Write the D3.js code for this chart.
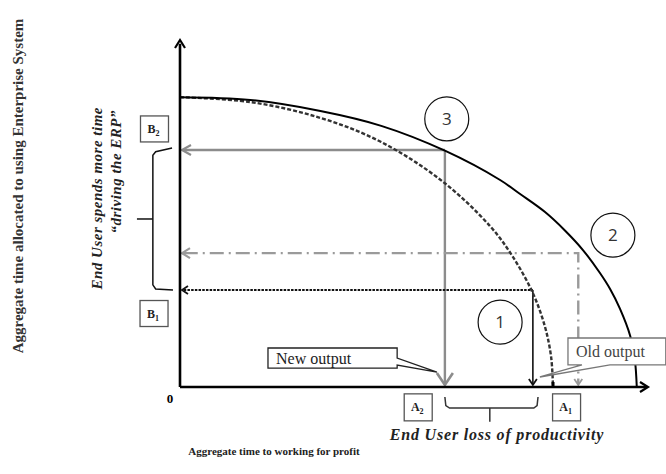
<!DOCTYPE html>
<html><head><meta charset="utf-8">
<script src="https://cdn.jsdelivr.net/npm/d3@7/dist/d3.min.js"></script>
<style>body{margin:0;background:#fff}svg{display:block}</style>
</head><body>
<svg id="c" width="666" height="474"></svg>
<script>
// ---- data (arbitrary units 0..100) ----
const oldPPF_x = [0, 15, 30, 43, 56.6, 68.4, 72.6, 78, 82.3, 86.1, 89.7, 91.9, 94, 96.2, 97.2, 97.6];
const oldPPF_y = [84, 83.2, 80, 75.7, 68.5, 60, 56, 50.7, 45.3, 39.7, 33.1, 28.4, 22.7, 14.8, 7.8, 0];
const newPPF_x = [0, 15, 30, 43, 56, 66.2, 71, 75.4, 78, 79.3, 79.7];
const newPPF_y = [84, 82.6, 78, 71, 59.7, 46.7, 38, 27.2, 17.4, 8.7, 0];

const pointLabels = ["1", "2", "3"];
const pointX = [75.4, 85.1, 56.6];
const pointY = [28.1, 38.8, 68.7];
const circleX = [68.4, 92.5, 57];
const circleY = [18.8, 44, 77.7];

const yMarkLabels = ["B", "B"];
const yMarkSubs = ["2", "1"];
const yMarkX = [-5.45, -5.55];
const yMarkY = [74.8, 21.3];
const xMarkLabels = ["A", "A"];
const xMarkSubs = ["2", "1"];
const xMarkX = [50.9, 82.6];
const xMarkY = [-5.9, -5.9];

const calloutTexts = ["New output", "Old output"];
const calloutBox = [[18.8, 11.3, 46.4, 5.5], [82.9, 14.2, 103.8, 6.4]];
const calloutTip = [[54.9, 4.3], [76.9, 2.9]];

const axisTitleX = "Aggregate time to working for profit";
const axisTitleY = "Aggregate time allocated to using Enterprise System";
const noteY = ["End User spends more time", "\u201Cdriving the ERP\u201D"];
const noteX = "End User loss of productivity";
const originLabel = "0";

// ---- scales ----
const x = d3.scaleLinear().domain([0, 100]).range([180, 648]);
const y = d3.scaleLinear().domain([0, 100]).range([387, 42]);
const svg = d3.select("#c");
const serif = "'Liberation Serif','Times New Roman',serif";

function chevron(tx, ty, ang, len, hw, color, width, filled) {
  const ux = Math.cos(ang), uy = Math.sin(ang);
  const px = -uy, py = ux;
  const bx = tx - ux * len, by = ty - uy * len;
  const p = d3.path();
  p.moveTo(bx + px * hw, by + py * hw);
  p.lineTo(tx, ty);
  p.lineTo(bx - px * hw, by - py * hw);
  if (filled) p.closePath();
  svg.append("path").attr("d", p.toString()).attr("fill", filled ? color : "none")
    .attr("stroke", color).attr("stroke-width", width).attr("stroke-linejoin", "miter");
}

const line = d3.line().x(d => x(d[0])).y(d => y(d[1]));
const curve = d3.line().x(d => x(d[0])).y(d => y(d[1])).curve(d3.curveCatmullRom.alpha(0.5));

// ---- guide lines ----
const g3 = 2;
svg.append("path").attr("d", line([[pointX[g3], pointY[g3]], [0.6, pointY[g3]]]))
  .attr("stroke", "#8c8c8c").attr("stroke-width", 2.4).attr("fill", "none");
svg.append("path").attr("d", line([[pointX[g3], pointY[g3]], [pointX[g3], 0.6]]))
  .attr("stroke", "#8c8c8c").attr("stroke-width", 2.4).attr("fill", "none");
chevron(x(0) + 2, y(pointY[g3]), Math.PI, 9, 5, "#8c8c8c", 2.2, false);
chevron(x(pointX[g3]), y(0) - 2, Math.PI / 2, 12, 8, "#8c8c8c", 2.6, false);

const g2 = 1;
svg.append("path").attr("d", line([[0.8, pointY[g2]], [pointX[g2], pointY[g2]], [pointX[g2], 0.8]]))
  .attr("stroke", "#9a9a9a").attr("stroke-width", 2.4).attr("fill", "none")
  .attr("stroke-dasharray", "14,5,2,5");
chevron(x(0) + 2, y(pointY[g2]), Math.PI, 8, 5, "#9a9a9a", 2.2, false);
chevron(x(pointX[g2]), y(0) - 2, Math.PI / 2, 6, 4, "#9a9a9a", 1.8, false);

const g1 = 0;
svg.append("path").attr("d", line([[0.8, pointY[g1]], [pointX[g1], pointY[g1]]]))
  .attr("stroke", "#111").attr("stroke-width", 2).attr("fill", "none")
  .attr("stroke-dasharray", "2.5,1.2");
svg.append("path").attr("d", line([[pointX[g1], pointY[g1]], [pointX[g1], 0.8]]))
  .attr("stroke", "#111").attr("stroke-width", 1.6).attr("fill", "none");
chevron(x(0) + 2, y(pointY[g1]), Math.PI, 6, 4, "#111", 1.8, false);
chevron(x(pointX[g1]), y(0) - 2, Math.PI / 2, 6, 4, "#111", 1.8, false);

// ---- curves ----
svg.append("path").attr("d", curve(newPPF_x.map((v, i) => [v, newPPF_y[i]])))
  .attr("stroke", "#333").attr("stroke-width", 2.4).attr("fill", "none")
  .attr("stroke-dasharray", "4,2");
svg.append("path").attr("d", curve(oldPPF_x.map((v, i) => [v, oldPPF_y[i]])))
  .attr("stroke", "#000").attr("stroke-width", 2).attr("fill", "none");

// ---- axes ----
svg.append("path").attr("d", line([[0, 0], [0, 99.5]])).attr("stroke", "#000").attr("stroke-width", 2.6).attr("fill", "none");
svg.append("path").attr("d", line([[0, 0], [99.6, 0]])).attr("stroke", "#000").attr("stroke-width", 2.6).attr("fill", "none");
chevron(x(0), y(100) - 2, -Math.PI / 2, 8, 5, "#000", 2.2, false);
chevron(x(100), y(0), 0, 8, 5, "#000", 2.2, false);
svg.append("rect").attr("x", x(79.7) - 1.5).attr("y", y(0) - 5).attr("width", 3).attr("height", 5).attr("fill", "#000");

svg.append("text").attr("x", x(0) - 10).attr("y", y(0) + 16).text(originLabel)
  .attr("font-family", serif).attr("font-size", 13).attr("font-weight", "bold").attr("text-anchor", "middle");

// ---- circles ----
pointLabels.forEach((t, i) => {
  svg.append("circle").attr("cx", x(circleX[i])).attr("cy", y(circleY[i])).attr("r", 22)
    .attr("fill", "#fff").attr("stroke", "#111").attr("stroke-width", 1.2);
  svg.append("text").attr("x", x(circleX[i])).attr("y", y(circleY[i]) + 6).text(t)
    .attr("text-anchor", "middle").attr("font-family", "'Open Sans','Liberation Sans',sans-serif")
    .attr("font-size", 17).attr("fill", "#333");
});

// ---- label boxes ----
function markBox(cx, cy, w, h, main, sub) {
  svg.append("rect").attr("x", cx - w / 2).attr("y", cy - h / 2).attr("width", w).attr("height", h)
    .attr("fill", "#fff").attr("stroke", "#555").attr("stroke-width", 1.3);
  const t = svg.append("text").attr("x", cx - 1).attr("y", cy + 4).attr("text-anchor", "middle")
    .attr("font-family", serif).attr("font-size", 12).attr("font-weight", "bold").attr("fill", "#222");
  t.append("tspan").text(main);
  t.append("tspan").text(sub).attr("font-size", 8).attr("dy", 3);
}
yMarkLabels.forEach((m, i) => markBox(x(yMarkX[i]), y(yMarkY[i]), 28, 26, m, yMarkSubs[i]));
xMarkLabels.forEach((m, i) => markBox(x(xMarkX[i]), y(xMarkY[i]), 28, 27, m, xMarkSubs[i]));

// ---- braces ----
const braceL = [[-1.7, 69.3], [-5.2, 68.2], [-5.8, 67.2], [-5.8, 29.6], [-5.2, 28.4], [-1.5, 28.1]];
svg.append("path").attr("d", line(braceL)).attr("stroke", "#111").attr("stroke-width", 1.5).attr("fill", "none");
svg.append("path").attr("d", line([[-9.2, 48.7], [-5.8, 48.7]])).attr("stroke", "#111").attr("stroke-width", 1.5).attr("fill", "none");
const braceB = [[56.6, -2.9], [56.8, -5.4], [57.6, -6.1], [75.6, -6.1], [76.3, -5.4], [76.5, -2.9]];
svg.append("path").attr("d", line(braceB)).attr("stroke", "#333").attr("stroke-width", 1.5).attr("fill", "none");
svg.append("path").attr("d", line([[66.2, -6.1], [66.2, -10.1]])).attr("stroke", "#333").attr("stroke-width", 1.5).attr("fill", "none");

// ---- callouts ----
calloutTexts.forEach((t, i) => {
  const b = calloutBox[i];
  const x0 = x(b[0]), y0 = y(b[1]), x1 = x(b[2]), y1 = y(b[3]);
  const tx = x(calloutTip[i][0]), ty = y(calloutTip[i][1]);
  let d;
  if (i === 0) {
    d = `M${x0},${y0}H${x1}V${y0 + 10}L${tx},${ty}L${x1},${y0 + 17}V${y1}H${x0}Z`;
  } else {
    d = `M${x0},${y0}H${x1}V${y1}H${x0 + 42}L${tx},${ty}L${x0 + 14},${y1}H${x0}Z`;
  }
  svg.append("path").attr("d", d).attr("fill", "#fff")
    .attr("stroke", i === 0 ? "#222" : "#777").attr("stroke-width", 1.3);
  svg.append("text").attr("x", x0 + 8).attr("y", (y0 + y1) / 2 + 5.5).text(t)
    .attr("font-family", serif).attr("font-size", 16).attr("fill", i === 0 ? "#222" : "#444");
});

// ---- titles / notes ----
svg.append("text").attr("transform", "translate(23,186) rotate(-90)").attr("text-anchor", "middle")
  .attr("font-family", serif).attr("font-size", 15).attr("font-weight", "bold").attr("fill", "#333").text(axisTitleY);
svg.append("text").attr("transform", "translate(102,107) rotate(-90)").attr("text-anchor", "end")
  .attr("font-family", serif).attr("font-size", 15).attr("letter-spacing", 0.5).attr("font-weight", "bold").attr("font-style", "italic").attr("fill", "#222").text(noteY[0]);
svg.append("text").attr("transform", "translate(121,110) rotate(-90)").attr("text-anchor", "end")
  .attr("font-family", serif).attr("font-size", 15).attr("letter-spacing", 0.5).attr("font-weight", "bold").attr("font-style", "italic").attr("fill", "#222").text(noteY[1]);
svg.append("text").attr("x", 497).attr("y", 440).attr("text-anchor", "middle")
  .attr("font-family", serif).attr("font-size", 16).attr("letter-spacing", 0.8).attr("font-weight", "bold").attr("font-style", "italic").attr("fill", "#222").text(noteX);
svg.append("text").attr("x", 274).attr("y", 455).attr("text-anchor", "middle")
  .attr("font-family", serif).attr("font-size", 11).attr("font-weight", "bold").attr("fill", "#222").text(axisTitleX);
</script>
</body></html>
